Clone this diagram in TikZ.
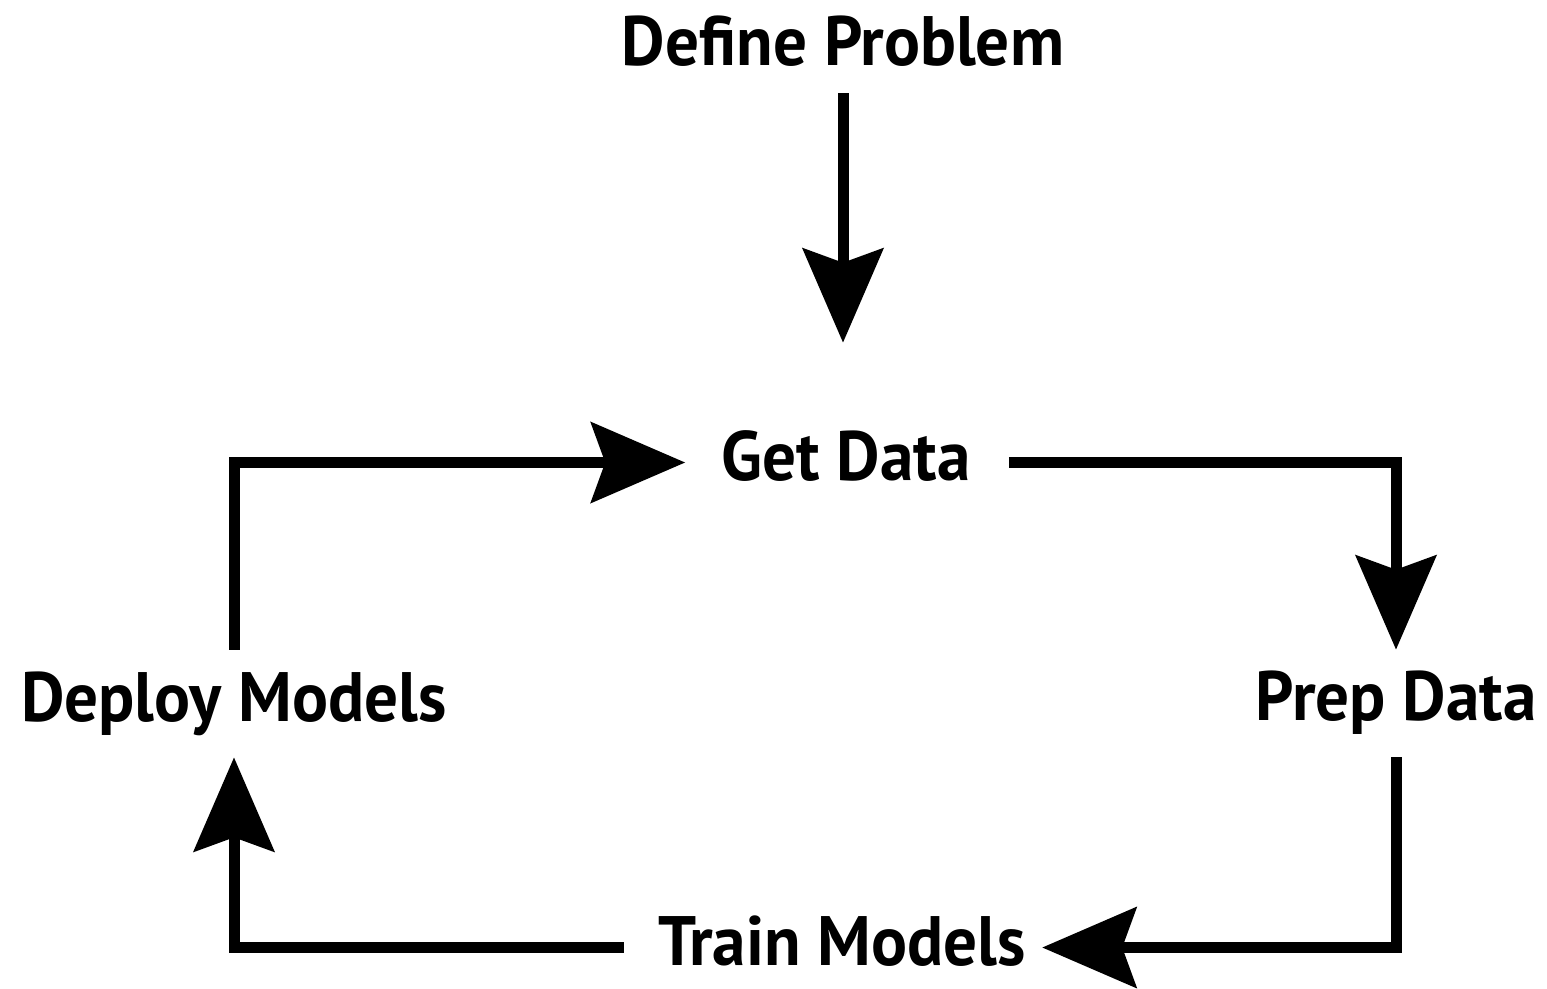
\documentclass[tikz,border=0pt]{standalone}
\usepackage{fontspec}
\setmainfont{PT Sans}[FakeStretch=0.96]
\usetikzlibrary{arrows.meta}

\begin{document}
\begin{tikzpicture}[x=0.02cm,y=-0.02cm,
  every node/.style={font=\fontsize{39.8pt}{48pt}\selectfont\bfseries,inner sep=0pt,anchor=base,text height=0.98cm,text depth=0.28cm},
  flow/.style={line width=0.22cm,-{Stealth[length=1.88cm,width=1.6cm,inset=0.28cm]}}]
  \useasboundingbox (0,0) rectangle (1547,988);
  \path (843,65) node (define) {Define Problem} (846,480) node (get) {Get Data}
  (1396,720) node (prep) {Prep Data} (842,965) node (train) {Train Models}
  (234,721) node (deploy) {Deploy Models};
  \draw[flow,shorten <=0.28cm,shorten >=1.76cm] (define.south) -- (define.south |- get.north);
  \draw[flow,shorten <=0.76cm,shorten >=0.42cm] (get.east) -| (prep.north);
  \draw[flow,shorten <=0.46cm,shorten >=0.32cm] (prep.south) |- (train.east);
  \draw[flow,shorten <=0.68cm,shorten >=0.44cm] (train.west) -| (deploy.south);
  \draw[flow,shorten <=0.44cm,shorten >=0.72cm] (deploy.north) |- (get.west);
\end{tikzpicture}
\end{document}
